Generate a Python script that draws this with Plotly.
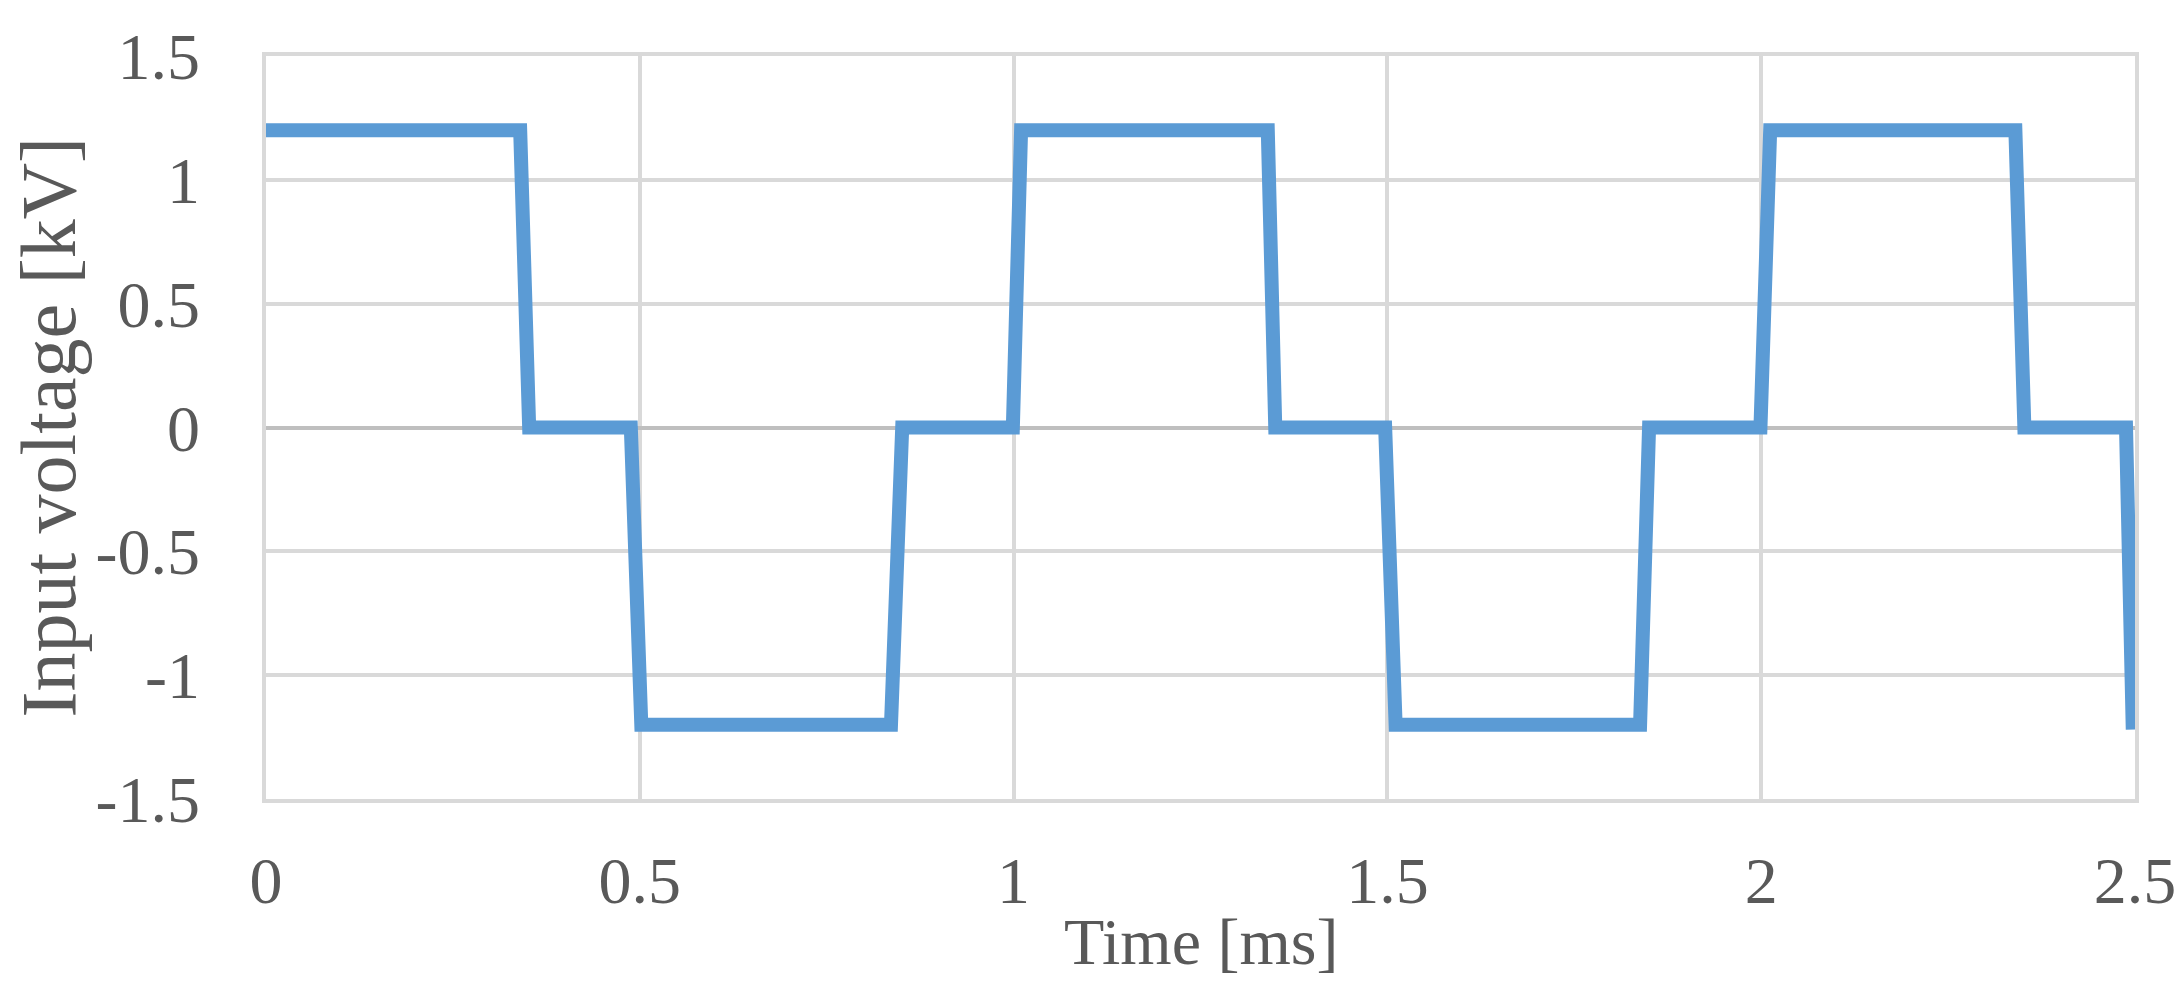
import plotly.graph_objects as go

# Data (time in ms, voltage in kV)
time_ms = [0.000, 0.340, 0.352, 0.488, 0.502, 0.836, 0.851, 0.999, 1.010,
           1.340, 1.350, 1.497, 1.511, 1.838, 1.850, 1.999, 2.012,
           2.340, 2.352, 2.488, 2.497]
voltage_kv = [1.2, 1.2, 0.0, 0.0, -1.2, -1.2, 0.0, 0.0, 1.2,
              1.2, 0.0, 0.0, -1.2, -1.2, 0.0, 0.0, 1.2,
              1.2, 0.0, 0.0, -1.22]

x_ticks = [0, 0.5, 1, 1.5, 2, 2.5]
x_tick_labels = ["0", "0.5", "1", "1.5", "2", "2.5"]
y_ticks = [-1.5, -1, -0.5, 0, 0.5, 1, 1.5]
y_tick_labels = ["-1.5", "-1", "-0.5", "0", "0.5", "1", "1.5"]

FONT = "Liberation Serif, Times New Roman, serif"
TXT = "#595959"
GRID = "#D9D9D9"
TICK_SIZE = 66

fig = go.Figure()
fig.add_trace(go.Scatter(
    x=time_ms, y=voltage_kv, mode="lines",
    line=dict(color="#5B9BD5", width=14),
    showlegend=False, hoverinfo="skip",
))

fig.update_layout(
    width=2182, height=999,
    margin=dict(l=258, r=55, t=45, b=208),
    paper_bgcolor="white", plot_bgcolor="white",
    font=dict(family=FONT, color=TXT, size=TICK_SIZE),
    xaxis=dict(
        range=[0, 2.5], tickvals=x_ticks, ticktext=x_tick_labels,
        showgrid=True, gridcolor=GRID, gridwidth=3.5,
        zeroline=False, showline=True, linecolor=GRID, linewidth=3.5, mirror=True,
        ticks="", ticklabelstandoff=21,
        tickfont=dict(family=FONT, size=TICK_SIZE, color=TXT),
    ),
    yaxis=dict(
        range=[-1.5, 1.5], tickvals=y_ticks, ticktext=y_tick_labels,
        showgrid=True, gridcolor=GRID, gridwidth=3.5,
        zeroline=True, zerolinecolor="#BFBFBF", zerolinewidth=4,
        showline=True, linecolor=GRID, linewidth=3.5, mirror=True,
        ticks="", ticklabelstandoff=49,
        tickfont=dict(family=FONT, size=TICK_SIZE, color=TXT),
    ),
    annotations=[
        dict(text="Time [ms]", xref="paper", yref="paper", x=0.5, y=-0.1917,
             xanchor="center", yanchor="middle", showarrow=False,
             font=dict(family=FONT, size=TICK_SIZE, color=TXT)),
        dict(text="Input voltage [kV]", xref="paper", yref="paper", x=-0.1166, y=0.5,
             xanchor="center", yanchor="middle", textangle=-90, showarrow=False,
             font=dict(family=FONT, size=78, color=TXT)),
    ],
)

fig.write_html("out.html")
